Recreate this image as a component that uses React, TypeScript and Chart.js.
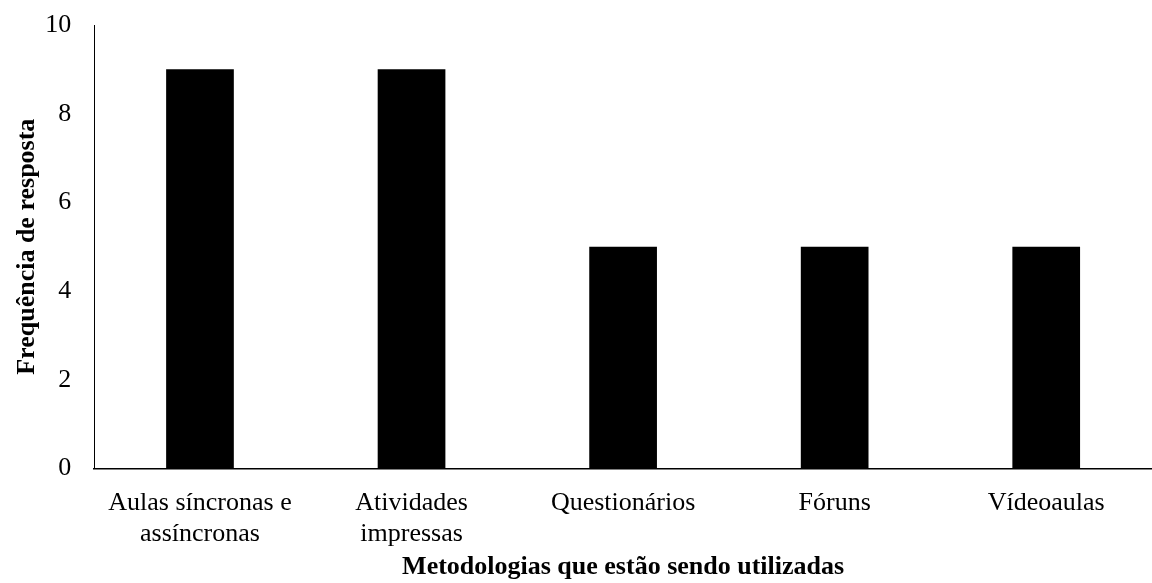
import React, { useEffect, useRef } from "react";
import { Chart, registerables } from "chart.js";

Chart.register(...registerables);

const categories: (string | string[])[] = [
  ["Aulas síncronas e", "assíncronas"],
  ["Atividades", "impressas"],
  "Questionários",
  "Fóruns",
  "Vídeoaulas",
];
const values = [9, 9, 5, 5, 5];
const yTitle = "Frequência de resposta";
const xTitle = "Metodologias que estão sendo utilizadas";

export default function App() {
  const ref = useRef<HTMLCanvasElement>(null);
  useEffect(() => {
    document.body.style.margin = "0";
    const font = "'Liberation Serif', 'Times New Roman', serif";
    const chart = new Chart(ref.current!, {
      type: "bar",
      data: {
        labels: categories,
        datasets: [
          {
            data: values,
            backgroundColor: "#000000",
            barPercentage: 1,
            categoryPercentage: 0.32,
          },
        ],
      },
      options: {
        animation: false,
        responsive: false,
        layout: { padding: { top: 25, right: 0, left: 0, bottom: 0 } },
        plugins: { legend: { display: false }, tooltip: { enabled: false } },
        scales: {
          x: {
            grid: { display: false, drawTicks: false },
            border: { display: true, color: "#000", width: 1.5 },
            ticks: {
              color: "#000",
              font: { family: font, size: 26 },
              padding: 19,
              maxRotation: 0,
              autoSkip: false,
            },
            title: {
              display: true,
              text: xTitle,
              color: "#000",
              font: { family: font, size: 26, weight: "bold" },
              padding: { top: -17, bottom: 0 },
            },
          },
          y: {
            min: 0,
            max: 10,
            grid: { display: false, drawTicks: false },
            border: { display: true, color: "#000", width: 1 },
            ticks: {
              stepSize: 2,
              color: "#000",
              font: { family: font, size: 26 },
              padding: 23,
            },
            title: {
              display: true,
              text: yTitle,
              color: "#000",
              font: { family: font, size: 26, weight: "bold" },
              padding: { top: 12, bottom: -21 },
            },
            afterFit: (scale: any) => {
              scale.paddingTop = 0;
            },
          },
        },
      },
    });
    return () => chart.destroy();
  }, []);
  return (
    <div style={{ position: "absolute", left: 0, top: 0, width: 1152, height: 583 }}>
      <canvas ref={ref} width={1152} height={583} />
    </div>
  );
}
